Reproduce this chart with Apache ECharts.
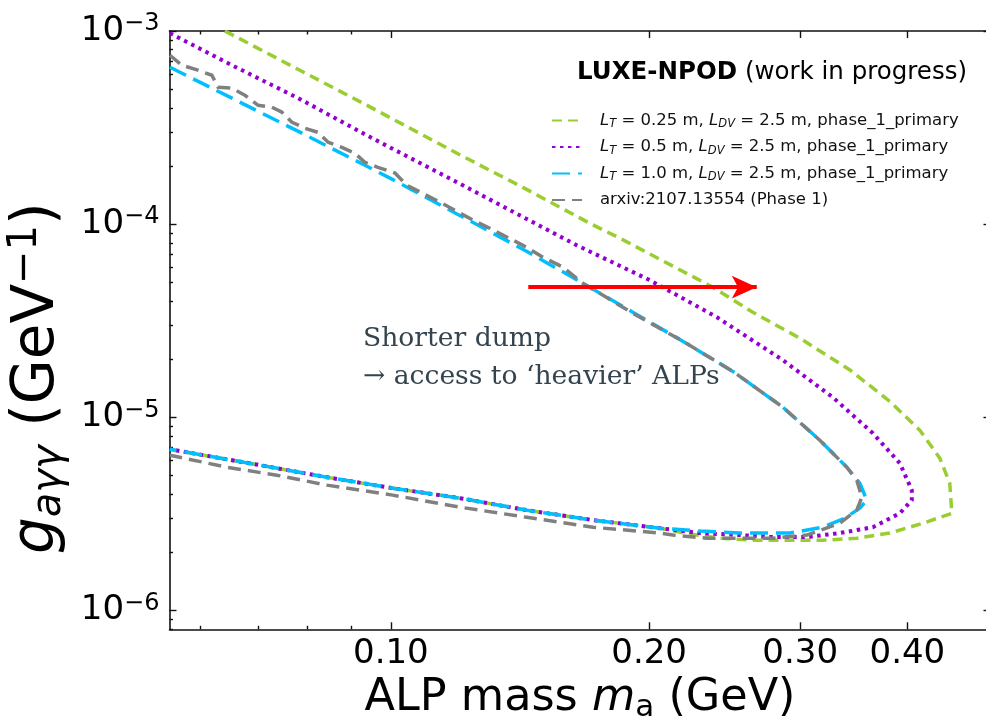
<!DOCTYPE html>
<html><head><meta charset="utf-8">
<script src="https://cdn.jsdelivr.net/npm/echarts@6/dist/echarts.min.js"></script>
<style>html,body{margin:0;padding:0;background:#fff}#c{width:986px;height:721px}</style>
</head><body><div id="c"></div><script>
// ---- data (ALP mass in GeV, coupling in GeV^-1) ----
const xMajorTicks = [0.1, 0.2, 0.3, 0.4];
const xMinorTicks = [0.06, 0.07, 0.08, 0.09];
const yMajorTicks = [1e-6, 1e-5, 1e-4, 1e-3];
const yMinorTicks = [8e-7, 9e-7, 2e-6, 3e-6, 4e-6, 5e-6, 6e-6, 7e-6, 8e-6, 9e-6,
  2e-5, 3e-5, 4e-5, 5e-5, 6e-5, 7e-5, 8e-5, 9e-5, 2e-4, 3e-4, 4e-4, 5e-4, 6e-4, 7e-4, 8e-4, 9e-4];

const lt025 = [
[0.06405,1.0e-3],[0.07791,6.34e-4],[0.09326,4.18e-4],[0.1194,2.33e-4],[0.1425,1.55e-4],[0.1706,1.01e-4],
[0.1849,8.46e-5],[0.2373,4.72e-5],[0.2642,3.50e-5],[0.2997,2.57e-5],[0.3428,1.76e-5],[0.3816,1.21e-5],
[0.4136,8.58e-6],[0.4364,6.15e-6],[0.4482,4.56e-6],[0.4507,3.19e-6],[0.4169,2.83e-6],[0.3816,2.52e-6],
[0.3492,2.37e-6],[0.3188,2.31e-6],[0.2918,2.31e-6],[0.2670,2.31e-6],[0.2418,2.37e-6],[0.2231,2.49e-6],
[0.2058,2.67e-6],[0.1720,2.94e-6],[0.1440,3.31e-6],[0.1203,3.82e-6],[0.1005,4.30e-6],[0.08422,4.90e-6],
[0.07036,5.66e-6],[0.05526,6.84e-6]
];
const lt050 = [
[0.05526,9.74e-4],[0.06527,6.65e-4],[0.07791,4.50e-4],[0.09326,2.92e-4],[0.1011,2.42e-4],[0.1194,1.65e-4],
[0.1425,1.09e-4],[0.1647,7.78e-5],[0.2004,5.13e-5],[0.2399,3.30e-5],[0.2863,1.98e-5],[0.3275,1.27e-5],
[0.3646,8.28e-6],[0.3920,5.79e-6],[0.4048,4.20e-6],[0.4048,3.73e-6],[0.3920,3.19e-6],[0.3646,2.70e-6],
[0.3337,2.52e-6],[0.3054,2.40e-6],[0.2788,2.40e-6],[0.2551,2.46e-6],[0.2292,2.52e-6],[0.2058,2.67e-6],
[0.1720,2.94e-6],[0.1440,3.31e-6],[0.1203,3.82e-6],[0.1005,4.30e-6],[0.08422,4.90e-6],[0.07036,5.66e-6],
[0.05526,6.84e-6]
];
const lt100 = [
[0.05526,6.49e-4],[0.06527,4.49e-4],[0.07791,3.03e-4],[0.09326,2.02e-4],[0.1003,1.71e-4],[0.1194,1.13e-4],
[0.1425,7.42e-5],[0.1674,4.95e-5],[0.1914,3.50e-5],[0.2189,2.48e-5],[0.2504,1.73e-5],[0.2863,1.13e-5],
[0.3162,7.62e-6],[0.3400,5.52e-6],[0.3521,4.56e-6],[0.3587,3.73e-6],[0.3521,3.39e-6],[0.3382,3.01e-6],
[0.3188,2.70e-6],[0.2918,2.52e-6],[0.2551,2.52e-6],[0.2292,2.58e-6],[0.2058,2.67e-6],[0.1720,2.94e-6],
[0.1440,3.31e-6],[0.1203,3.82e-6],[0.1005,4.30e-6],[0.08422,4.90e-6],[0.07036,5.66e-6],[0.05526,6.84e-6]
];
const arxiv = [
[0.05526,7.49e-4],[0.05707,6.65e-4],[0.05957,6.27e-4],[0.06186,5.90e-4],[0.06286,5.12e-4],[0.06527,5.06e-4],
[0.06758,4.65e-4],[0.06998,4.13e-4],[0.07266,4.03e-4],[0.07464,3.80e-4],[0.07667,3.37e-4],[0.07939,3.14e-4],
[0.08221,2.99e-4],[0.08444,2.66e-4],[0.08768,2.50e-4],[0.09079,2.33e-4],[0.09326,2.09e-4],[0.09657,1.97e-4],
[0.1011,1.84e-4],[0.1044,1.59e-4],[0.1141,1.30e-4],[0.1246,1.05e-4],[0.1304,9.53e-5],[0.1425,7.78e-5],
[0.1504,6.75e-5],[0.1587,5.99e-5],[0.1674,4.95e-5],[0.1914,3.46e-5],[0.2189,2.48e-5],[0.2504,1.73e-5],
[0.2863,1.13e-5],[0.3162,7.62e-6],[0.3400,5.52e-6],[0.3492,4.73e-6],[0.3540,3.86e-6],[0.3492,3.31e-6],
[0.3337,2.83e-6],[0.3054,2.46e-6],[0.2788,2.37e-6],[0.2335,2.37e-6],[0.2131,2.46e-6],[0.2058,2.52e-6],
[0.1720,2.70e-6],[0.1440,3.04e-6],[0.1203,3.43e-6],[0.1005,3.96e-6],[0.08422,4.46e-6],[0.07364,5.02e-6],
[0.06440,5.52e-6],[0.05526,6.37e-6]
];
const arrowFrom = [0.1446, 4.72e-5];
const arrowTo = [0.2670, 4.72e-5];

const seriesNames = ['lt025', 'lt050', 'lt100', 'arxiv'];
const legendLabels = {
  lt025: '{i|L}{sub|T}{n| = 0.25 m, }{i|L}{sub|DV}{n| = 2.5 m, phase_1_primary}',
  lt050: '{i|L}{sub|T}{n| = 0.5 m, }{i|L}{sub|DV}{n| = 2.5 m, phase_1_primary}',
  lt100: '{i|L}{sub|T}{n| = 1.0 m, }{i|L}{sub|DV}{n| = 2.5 m, phase_1_primary}',
  arxiv: '{n|arxiv:2107.13554 (Phase 1)}'
};

// ---- chart ----
const FONT = 'DejaVu Sans';
const chart = echarts.init(document.getElementById('c'), null, {renderer: 'canvas'});
const X_MIN = 0.0552, X_MAX = 0.5, Y_MIN = 8e-7, Y_MAX = 1e-3;
const lineCol = '#111';

function xAxisDef(pos, ticks, len, showLine, showLabel) {
  return {
    type: 'log', logBase: 10, min: X_MIN, max: X_MAX, position: pos,
    axisLine: {show: showLine, onZero: false, lineStyle: {color: lineCol, width: 1.6}},
    axisTick: {show: true, inside: true, length: len, customValues: ticks, lineStyle: {color: lineCol, width: 1.4}},
    axisLabel: {show: showLabel, customValues: ticks, margin: 8, color: '#000', fontFamily: FONT, fontSize: 34,
      formatter: v => Number(v).toFixed(2)},
    splitLine: {show: false}, minorTick: {show: false}, minorSplitLine: {show: false}
  };
}
function yAxisDef(pos, ticks, len, showLine, showLabel) {
  return {
    type: 'log', logBase: 10, min: Y_MIN, max: Y_MAX, position: pos,
    axisLine: {show: showLine, onZero: false, lineStyle: {color: lineCol, width: 1.6}},
    axisTick: {show: true, inside: true, length: len, customValues: ticks, lineStyle: {color: lineCol, width: 1.4}},
    axisLabel: {show: showLabel, customValues: ticks, margin: 10, color: '#000',
      formatter: v => '{a|10}{s|−' + (-Math.round(Math.log10(v))) + '}',
      rich: {a: {fontFamily: FONT, fontSize: 34, lineHeight: 38, color: '#000'},
             s: {fontFamily: FONT, fontSize: 24, lineHeight: 22, verticalAlign: 'top', color: '#000'}}},
    splitLine: {show: false}, minorTick: {show: false}, minorSplitLine: {show: false}
  };
}

const xAxes = [
  xAxisDef('bottom', xMajorTicks, 7, true, true),
  xAxisDef('bottom', xMinorTicks, 3.5, false, false),
  xAxisDef('top', xMajorTicks, 7, true, false),
  xAxisDef('top', xMinorTicks, 3.5, false, false)
];
Object.assign(xAxes[0], {
  name: '{n|ALP mass }{i|m}{sub|a}{n| (GeV)}', nameLocation: 'middle', nameGap: 38,
  nameTextStyle: {rich: {
    n: {fontFamily: FONT, fontSize: 44.5, lineHeight: 50, color: '#000'},
    i: {fontFamily: FONT, fontSize: 44.5, lineHeight: 50, fontStyle: 'italic', color: '#000'},
    sub: {fontFamily: FONT, fontSize: 31, lineHeight: 22, verticalAlign: 'bottom', color: '#000'}}}
});
const yAxes = [
  yAxisDef('left', yMajorTicks, 7, true, true),
  yAxisDef('left', yMinorTicks, 3.5, false, false),
  yAxisDef('right', yMajorTicks, 7, true, false),
  yAxisDef('right', yMinorTicks, 3.5, false, false)
];
Object.assign(yAxes[0], {
  name: '{i|g}{sub|aγγ}{n| (GeV}{sup|−1}{n|)}', nameLocation: 'middle', nameGap: 87, nameRotate: 90,
  nameTextStyle: {padding: [0, 96, 0, 0], rich: {
    n: {fontFamily: FONT, fontSize: 58, lineHeight: 64, color: '#000'},
    i: {fontFamily: FONT, fontSize: 58, lineHeight: 64, fontStyle: 'italic', color: '#000'},
    sub: {fontFamily: FONT, fontSize: 40, lineHeight: 29, fontStyle: 'italic', verticalAlign: 'bottom', color: '#000'},
    sup: {fontFamily: FONT, fontSize: 40, lineHeight: 29, verticalAlign: 'top', color: '#000'}}}
});

function curve(name, data, color, width, dash) {
  return {
    name: name, type: 'line', data: data, xAxisIndex: 0, yAxisIndex: 0,
    symbol: 'none', showSymbol: false, smooth: false, clip: true, animation: false,
    lineStyle: {color: color, width: width, type: dash, cap: 'butt', join: 'round'},
    itemStyle: {color: color}, emphasis: {disabled: true}
  };
}

const series = [
  curve('lt025', lt025, '#9acd32', 3.5, [10, 6]),
  curve('lt050', lt050, '#9400d3', 4, [3.5, 4.5]),
  curve('lt100', lt100, '#00bfff', 3.5, [18, 8]),
  curve('arxiv', arxiv, '#808080', 3.5, [13, 7]),
  {
    name: 'arrow', type: 'line', data: [], xAxisIndex: 0, yAxisIndex: 0, animation: false,
    markLine: {
      silent: true, symbol: ['none', 'arrow'], symbolSize: [17, 25], animation: false,
      lineStyle: {color: '#ff0000', width: 4, type: 'solid'}, label: {show: false},
      emphasis: {disabled: true},
      data: [[{coord: arrowFrom}, {coord: arrowTo}]]
    }
  }
];

const legendRich = {
  n: {fontFamily: FONT, fontSize: 16.5, lineHeight: 20, color: '#111'},
  i: {fontFamily: FONT, fontSize: 16.5, lineHeight: 20, fontStyle: 'italic', color: '#111'},
  sub: {fontFamily: FONT, fontSize: 11.5, lineHeight: 12, fontStyle: 'italic', verticalAlign: 'bottom', color: '#111'}
};

chart.setOption({
  backgroundColor: '#fff',
  animation: false,
  grid: {left: 169.5, top: 31, width: 821, height: 598.3, containLabel: false, outerBoundsMode: 'none'},
  title: {
    text: '{b|LUXE-NPOD} {n|(work in progress)}', right: 19, top: 60, padding: 0,
    textStyle: {fontFamily: FONT, fontSize: 24.5, fontWeight: 'normal', color: '#000', rich: {
      b: {fontFamily: FONT, fontSize: 24.5, fontWeight: 'bold', color: '#000'},
      n: {fontFamily: FONT, fontSize: 24.5, fontWeight: 'normal', color: '#000'}}}
  },
  legend: {
    data: seriesNames, orient: 'vertical', left: 551, top: 112, padding: 0,
    itemWidth: 30, itemHeight: 14, itemGap: 8, selectedMode: false,
    itemStyle: {opacity: 0},
    formatter: n => legendLabels[n],
    textStyle: {fontFamily: FONT, fontSize: 16.5, color: '#111', padding: [0, 0, 0, 13], rich: legendRich}
  },
  xAxis: xAxes,
  yAxis: yAxes,
  series: series,
  graphic: [{
    type: 'text', left: 363, top: 320, silent: true,
    style: {text: 'Shorter dump\n→ access to ‘heavier’ ALPs', font: '26.6px "DejaVu Serif"', fill: '#34444f', lineHeight: 38}
  }]
});
</script></body></html>
